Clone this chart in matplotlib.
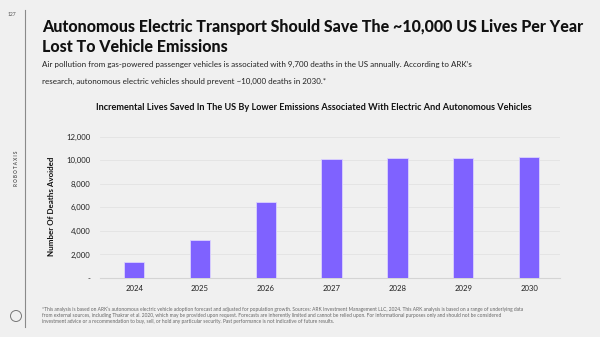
import matplotlib
matplotlib.use("Agg")
import matplotlib.pyplot as plt
from matplotlib.lines import Line2D
from matplotlib.patches import Ellipse

plt.rcParams['font.family'] = ['Lato', 'DejaVu Sans']

years = ["2024", "2025", "2026", "2027", "2028", "2029", "2030"]
deaths_avoided = [1390, 3230, 6490, 10100, 10150, 10210, 10270]
y_ticks = [0, 2000, 4000, 6000, 8000, 10000, 12000]
y_tick_labels = ["-", "2,000", "4,000", "6,000", "8,000", "10,000", "12,000"]

BG = "#F0F0F0"
BAR = "#7F62FF"
W, H = 600, 337

fig = plt.figure(figsize=(6.0, 3.37), dpi=100, facecolor=BG)
renderer = fig.canvas.get_renderer()


def fit_width(txt, target_px):
    """Scale a text's font size so its rendered width is target_px."""
    for _ in range(3):
        w = txt.get_window_extent(renderer).width
        txt.set_fontsize(txt.get_fontsize() * target_px / w)


# page furniture
fig.add_artist(Line2D([25 / W, 25 / W], [1 - 10 / H, 1 - 327 / H],
                      transform=fig.transFigure, color="#8A8A8A", lw=0.8))
fig.text(12 / W, 1 - 15 / H, "127", fontsize=3.6, color="#555555",
         ha="center", va="center")
fig.text(17 / W, 1 - 168 / H, "R O B O T A X I S", fontsize=3.3, color="#555555",
         rotation=90, ha="center", va="center", fontweight="bold")
fig.add_artist(Ellipse((16 / W, 1 - 316 / H), 11 / W, 11 / H, transform=fig.transFigure,
                       fill=False, ec="#777777", lw=0.7))

# headline and description
t1 = fig.text(42 / W, 1 - 27 / H,
              "Autonomous Electric Transport Should Save The ~10,000 US Lives Per Year",
              fontsize=11.5, fontweight="black", color="#111111", va="center", ha="left")
fit_width(t1, 540)
fig.text(42 / W, 1 - 47 / H, "Lost To Vehicle Emissions",
         fontsize=t1.get_fontsize(), fontweight="black", color="#111111",
         va="center", ha="left")
s1 = fig.text(42 / W, 1 - 64 / H,
              "Air pollution from gas-powered passenger vehicles is associated with 9,700 deaths "
              "in the US annually. According to ARK\u2019s",
              fontsize=5.8, color="#222222", va="center", ha="left")
fit_width(s1, 428)
fig.text(42 / W, 1 - 81 / H,
         "research, autonomous electric vehicles should prevent ~10,000 deaths in 2030.*",
         fontsize=s1.get_fontsize(), color="#222222", va="center", ha="left")

ct = fig.text(314 / W, 1 - 107 / H,
              "Incremental Lives Saved In The US By Lower Emissions Associated With Electric "
              "And Autonomous Vehicles",
              fontsize=6.6, fontweight="bold", color="#111111", ha="center", va="center")
fit_width(ct, 437)

# chart
ax = fig.add_axes([100 / W, 1 - 278 / H, 460 / W, (278 - 134.3) / H])
ax.set_facecolor(BG)
x = list(range(len(years)))
ax.bar(x, deaths_avoided, width=0.31, color=BAR, edgecolor="#DCD3FF", linewidth=0.6,
       zorder=3)
ax.set_xlim(-0.52, 6.47)
ax.set_ylim(0, 12200)
ax.set_yticks(y_ticks)
ax.set_yticklabels(y_tick_labels)
ax.set_xticks(x)
ax.set_xticklabels(years)
ax.tick_params(axis="both", length=0, labelsize=5.6, colors="#222222")
ax.tick_params(axis="y", pad=7)
ax.tick_params(axis="x", pad=5)
ax.grid(axis="y", color="#E2E2E2", lw=0.6, zorder=0)
for s in ["top", "right", "left"]:
    ax.spines[s].set_visible(False)
ax.spines["bottom"].set_color("#D4D4D4")
ax.spines["bottom"].set_linewidth(0.8)
ax.set_ylabel("Number Of Deaths Avoided", fontsize=5.8, fontweight="bold",
              color="#111111", labelpad=8)

# footnote
foot = [
    "*This analysis is based on ARK\u2019s autonomous electric vehicle adoption forecast and adjusted "
    "for population growth. Sources: ARK Investment Management LLC, 2024. This ARK analysis is based "
    "on a range of underlying data",
    "from external sources, including Thakrar et al. 2020, which may be provided upon request. "
    "Forecasts are inherently limited and cannot be relied upon. For informational purposes only "
    "and should not be considered",
    "investment advice or a recommendation to buy, sell, or hold any particular security. Past "
    "performance is not indicative of future results.",
]
f0 = None
for i, line in enumerate(foot):
    t = fig.text(42 / W, 1 - (309 + 6 * i) / H, line, fontsize=3.6, color="#666666",
                 ha="left", va="center")
    if i == 0:
        fit_width(t, 486)
        f0 = t.get_fontsize()
    else:
        t.set_fontsize(f0)

fig.savefig("out.png", dpi=100, facecolor=BG)
